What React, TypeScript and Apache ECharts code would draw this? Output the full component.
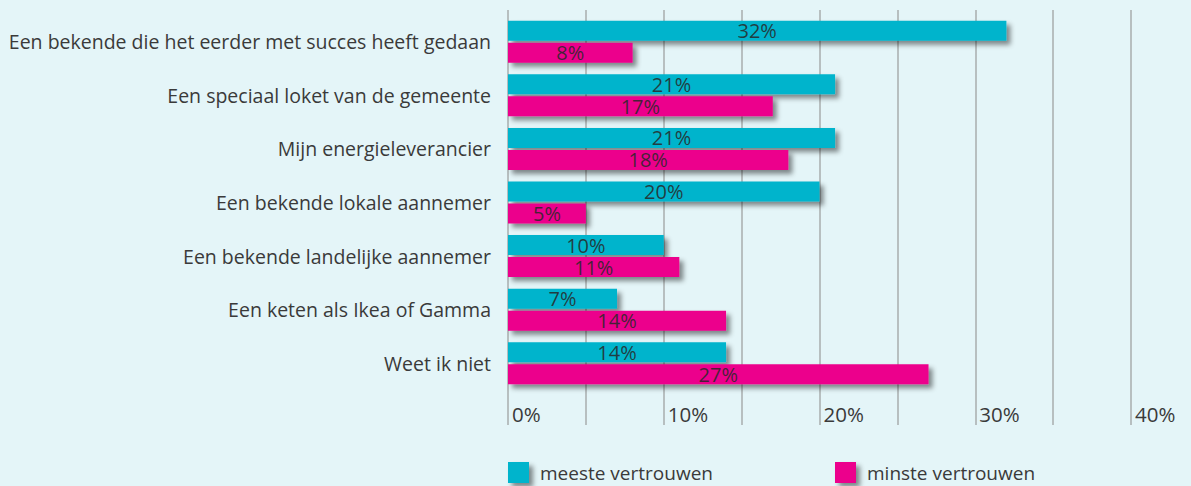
import React, { useEffect, useRef } from "react";
import * as echarts from "echarts";

const categories = [
  "Een bekende die het eerder met succes heeft gedaan",
  "Een speciaal loket van de gemeente",
  "Mijn energieleverancier",
  "Een bekende lokale aannemer",
  "Een bekende landelijke aannemer",
  "Een keten als Ikea of Gamma",
  "Weet ik niet",
];
const meesteVertrouwen = [32, 21, 21, 20, 10, 7, 14];
const minsteVertrouwen = [8, 17, 18, 5, 11, 14, 27];
const seriesNames = ["meeste vertrouwen", "minste vertrouwen"];

const FONT = "'Open Sans', sans-serif";
const TEXT = "#3a3a3a";
const LINE = "#a9acae";
const CYAN = "#00b4cc";
const MAGENTA = "#ec008c";

export default function App() {
  const ref = useRef<HTMLDivElement>(null);
  useEffect(() => {
    document.body.style.margin = "0";
    const chart = echarts.init(ref.current!, null, { renderer: "svg" });
    const shadow = {
      shadowBlur: 5,
      shadowOffsetX: 4,
      shadowOffsetY: 4,
      shadowColor: "rgba(0,0,0,0.45)",
    };
    const barLabel = {
      show: true,
      position: "inside",
      formatter: "{c}%",
      fontFamily: FONT,
      fontSize: 20,
      color: "rgba(40,40,40,0.85)",
    };
    const legendBase = {
      top: 462,
      padding: 0,
      icon: "rect",
      itemWidth: 21,
      itemHeight: 21,
      itemStyle: shadow,
      textStyle: { fontFamily: FONT, fontSize: 19, color: TEXT, padding: [0, 0, 0, 6] },
    };
    chart.setOption({
      animation: false,
      backgroundColor: "#e4f5f8",
      textStyle: { fontFamily: FONT },
      grid: { left: 508, right: 60, top: 15, bottom: 96 },
      legend: [
        { ...legendBase, data: [seriesNames[0]], left: 508 },
        { ...legendBase, data: [seriesNames[1]], left: 835 },
      ],
      xAxis: [
        {
          type: "value",
          min: 0,
          max: 40,
          interval: 5,
          axisLine: { show: false },
          axisTick: { show: true, length: 35, lineStyle: { color: LINE, width: 1.5 } },
          splitLine: { show: true, lineStyle: { color: LINE, width: 1.5 } },
          axisLabel: {
            formatter: (v: number) => (v % 10 === 0 ? v + "%" : ""),
            align: "left",
            padding: [0, 0, 0, 4],
            margin: 13,
            fontFamily: FONT,
            fontSize: 20.5,
            color: TEXT,
          },
        },
        {
          type: "value",
          position: "top",
          min: 0,
          max: 40,
          interval: 5,
          axisLine: { show: false },
          axisTick: { show: true, length: 5, lineStyle: { color: LINE, width: 1.5 } },
          splitLine: { show: false },
          axisLabel: { show: false },
        },
      ],
      yAxis: {
        type: "category",
        inverse: true,
        data: categories,
        axisLine: { show: false },
        axisTick: { show: false },
        axisLabel: {
          margin: 17,
          fontFamily: FONT,
          fontSize: 19.5,
          color: TEXT,
          padding: [11, 0, 0, 0],
        },
      },
      series: [
        {
          name: seriesNames[0],
          type: "bar",
          data: meesteVertrouwen,
          barWidth: 20,
          barGap: "10%",
          itemStyle: { color: CYAN, ...shadow },
          label: barLabel,
        },
        {
          name: seriesNames[1],
          type: "bar",
          data: minsteVertrouwen,
          barWidth: 20,
          barGap: "10%",
          itemStyle: { color: MAGENTA, ...shadow },
          label: barLabel,
        },
      ],
    });
    return () => chart.dispose();
  }, []);
  return <div ref={ref} style={{ width: 1191, height: 486 }} />;
}
